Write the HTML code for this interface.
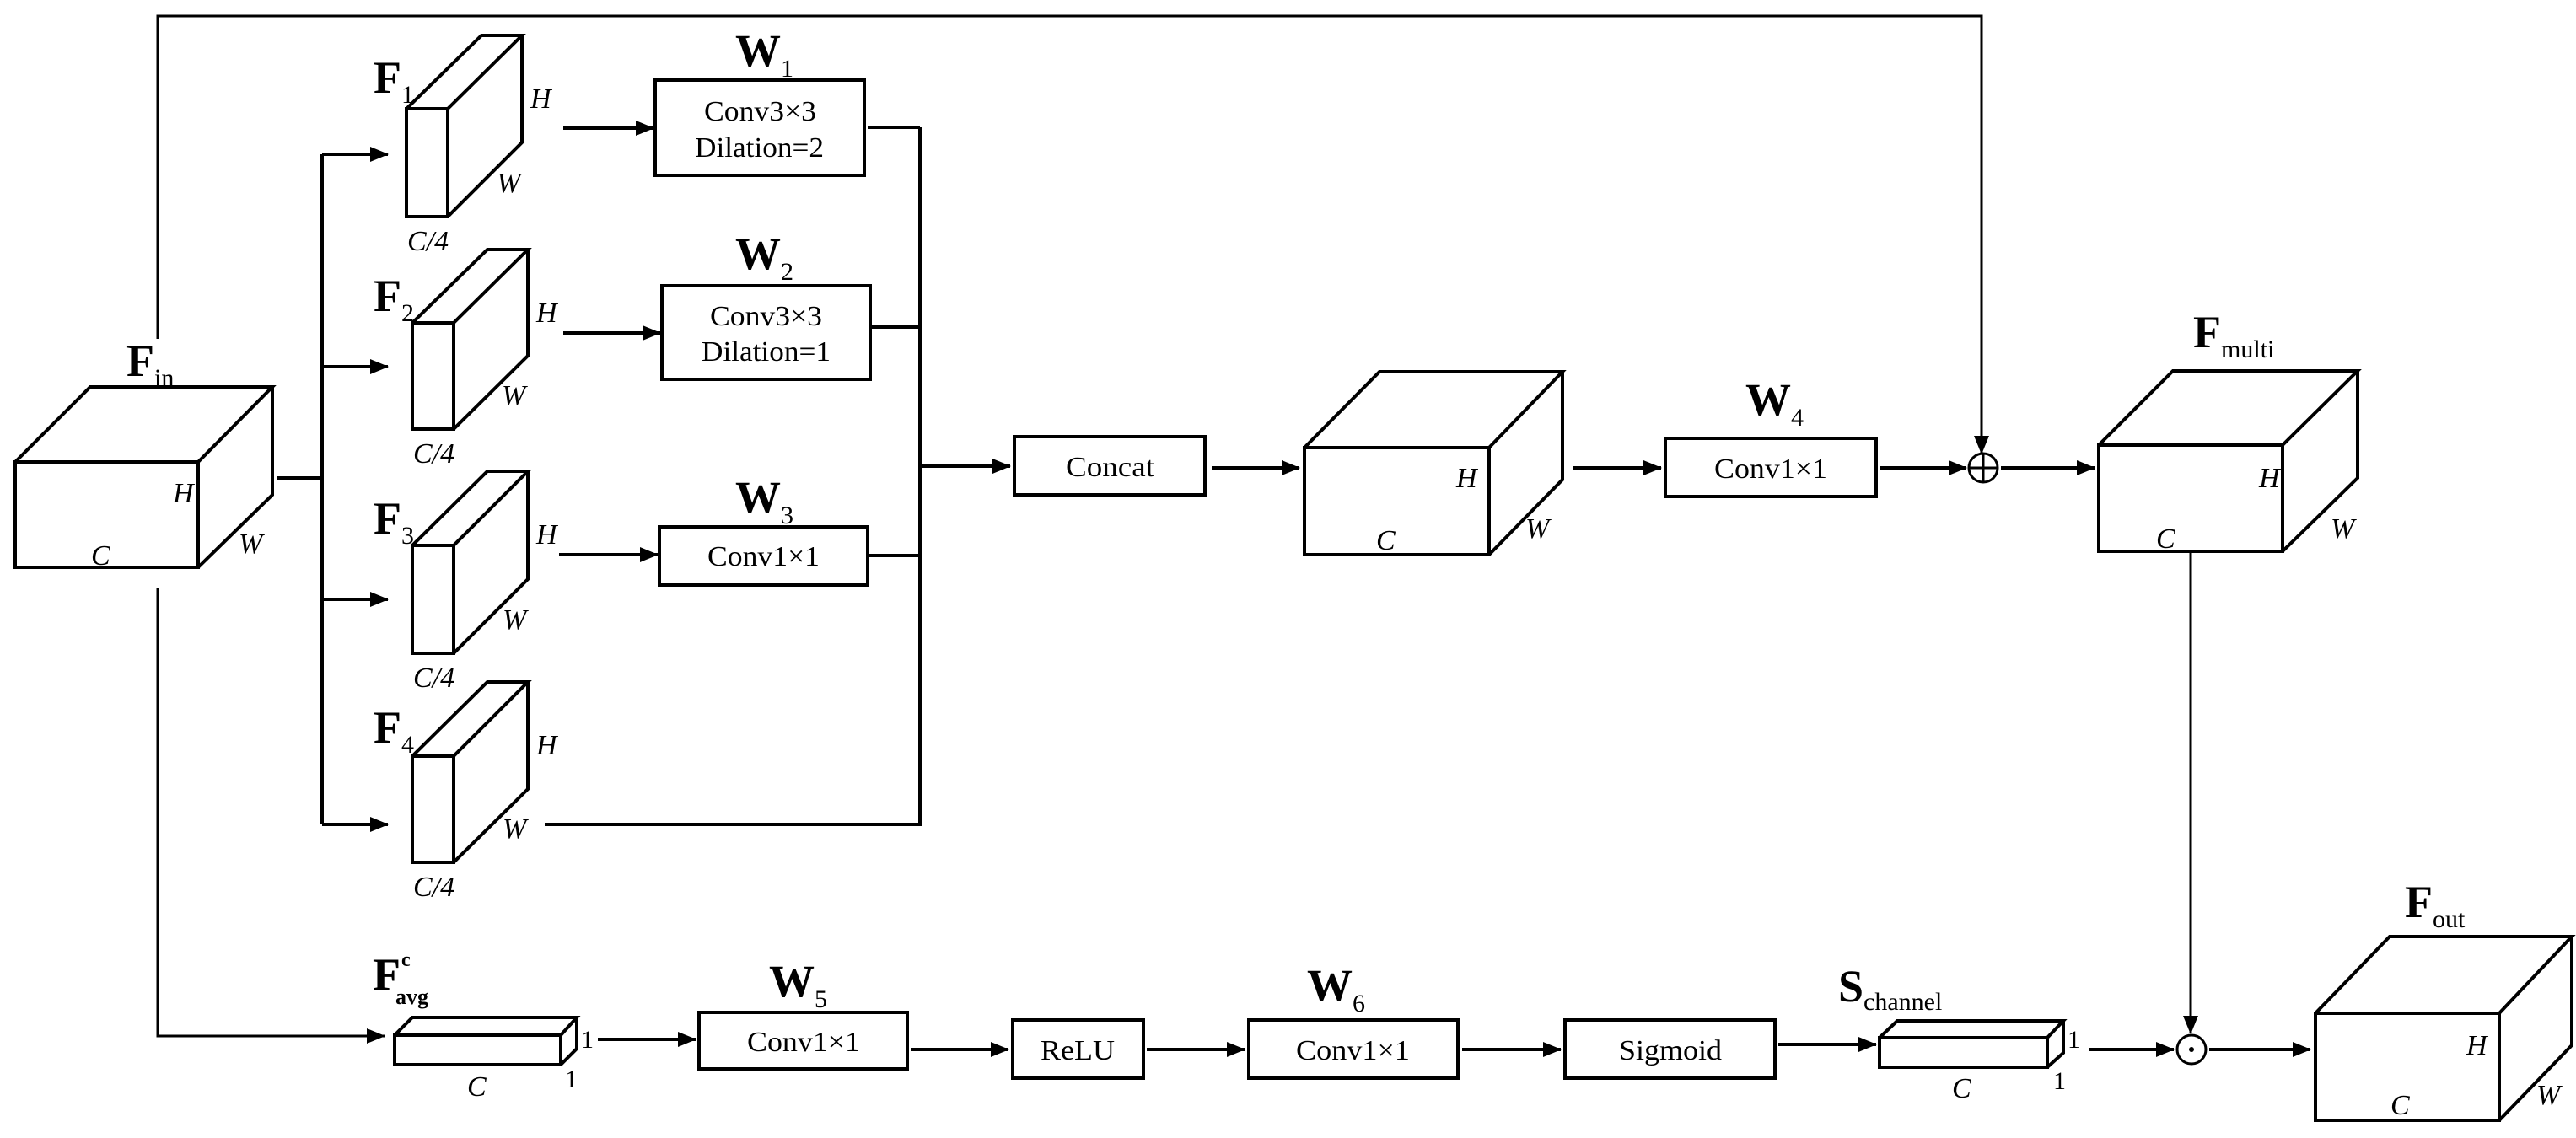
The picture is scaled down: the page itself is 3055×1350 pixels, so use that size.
<!DOCTYPE html>
<html><head><meta charset="utf-8"><style>
html,body{margin:0;padding:0;background:#fff;}
svg{display:block;}
text{font-family:"Liberation Serif",serif;fill:#000;}
.b{font-weight:bold;}
.i{font-style:italic;}
</style></head><body>
<svg width="3055" height="1350" viewBox="0 0 3055 1350" xmlns="http://www.w3.org/2000/svg">
<defs>
<marker id="a" markerWidth="22" markerHeight="18" refX="21" refY="9" orient="auto" markerUnits="userSpaceOnUse">
<path d="M0,0 L22,9 L0,18 Z" fill="#000"/>
</marker>
</defs>
<g stroke="#000" stroke-width="4" fill="none" stroke-linejoin="miter">
<rect x="18" y="548" width="217" height="125" fill="#fff"/>
<path d="M18,548 L107,459 L323,459 L235,548 M323,459 L323,587 L235,673"/>
<path d="M187,402 L187,19 L2350,19 L2350,538" stroke-width="3" marker-end="url(#a)"/>
<path d="M328,567 L382,567"/>
<path d="M382,183 L382,978"/>
<path d="M382,183 L460,183" marker-end="url(#a)"/>
<path d="M382,435 L460,435" marker-end="url(#a)"/>
<path d="M382,711 L460,711" marker-end="url(#a)"/>
<path d="M382,978 L460,978" marker-end="url(#a)"/>
<rect x="482" y="129" width="49" height="128" fill="#fff"/>
<path d="M482,129 L571,42 L619,42 L531,129 M619,42 L619,169 L531,257"/>
<rect x="489" y="383" width="49" height="126" fill="#fff"/>
<path d="M489,383 L578,296 L626,296 L538,383 M626,296 L626,422 L538,509"/>
<rect x="489" y="647" width="49" height="128" fill="#fff"/>
<path d="M489,647 L578,559 L626,559 L538,647 M626,559 L626,687 L538,775"/>
<rect x="489" y="897" width="49" height="126" fill="#fff"/>
<path d="M489,897 L578,809 L626,809 L538,897 M626,809 L626,936 L538,1023"/>
<path d="M668,152 L775,152" marker-end="url(#a)"/>
<path d="M668,395 L783,395" marker-end="url(#a)"/>
<path d="M663,658 L780,658" marker-end="url(#a)"/>
<rect x="777" y="95" width="248" height="113"/>
<rect x="785" y="339" width="247" height="111"/>
<rect x="782" y="625" width="247" height="69"/>
<path d="M1029,151 L1091,151 M1034,388 L1091,388 M1031,659 L1091,659 M646,978 L1091,978 M1091,151 L1091,980"/>
<path d="M1091,553 L1198,553" marker-end="url(#a)"/>
<rect x="1203" y="518" width="226" height="69"/>
<path d="M1437,555 L1541,555" marker-end="url(#a)"/>
<rect x="1547" y="531" width="219" height="127" fill="#fff"/>
<path d="M1547,531 L1636,441 L1853,441 L1766,531 M1853,441 L1853,569 L1766,658"/>
<path d="M1866,555 L1970,555" marker-end="url(#a)"/>
<rect x="1975" y="520" width="250" height="69"/>
<path d="M2230,555 L2332,555" marker-end="url(#a)"/>
<ellipse cx="2352" cy="555" rx="17" ry="17" stroke-width="3"/>
<path d="M2335,555 L2369,555 M2352,538 L2352,572" stroke-width="3"/>
<path d="M2373,555 L2484,555" marker-end="url(#a)"/>
<rect x="2489" y="528" width="218" height="126" fill="#fff"/>
<path d="M2489,528 L2577,440 L2796,440 L2707,528 M2796,440 L2796,567 L2707,654"/>
<path d="M2598,654 L2598,1226" stroke-width="3" marker-end="url(#a)"/>
<path d="M187,697 L187,1229 L456,1229" stroke-width="3" marker-end="url(#a)"/>
<rect x="468" y="1228" width="197" height="35" fill="#fff"/>
<path d="M468,1228 L489,1207 L684,1207 L665,1228 M684,1207 L684,1244 L665,1263"/>
<path d="M709,1233 L825,1233" marker-end="url(#a)"/>
<rect x="829" y="1201" width="247" height="67"/>
<path d="M1080,1245 L1196,1245" marker-end="url(#a)"/>
<rect x="1201" y="1210" width="155" height="69"/>
<path d="M1360,1245 L1476,1245" marker-end="url(#a)"/>
<rect x="1481" y="1210" width="248" height="69"/>
<path d="M1734,1245 L1851,1245" marker-end="url(#a)"/>
<rect x="1856" y="1210" width="249" height="69"/>
<path d="M2109,1239 L2225,1239" marker-end="url(#a)"/>
<rect x="2229" y="1231" width="199" height="35" fill="#fff"/>
<path d="M2229,1231 L2250,1211 L2447,1211 L2428,1231 M2447,1211 L2447,1249 L2428,1266"/>
<path d="M2477,1245 L2578,1245" marker-end="url(#a)"/>
<ellipse cx="2599" cy="1245" rx="17" ry="17" stroke-width="3"/>
<circle cx="2599" cy="1245" r="3" fill="#000" stroke="none"/>
<path d="M2620,1245 L2740,1245" marker-end="url(#a)"/>
<rect x="2746" y="1202" width="218" height="127" fill="#fff"/>
<path d="M2746,1202 L2834,1111 L3050,1111 L2964,1202 M3050,1111 L3050,1240 L2964,1329"/>
</g>

<g font-size="34">
<text x="150" y="446" class="b" font-size="54">F<tspan font-size="30" font-weight="normal" dy="12">in</tspan></text>
<text x="205" y="596" class="i">H</text>
<text x="283" y="656" class="i">W</text>
<text x="108" y="670" class="i">C</text>

<text x="443" y="110" class="b" font-size="54">F<tspan font-size="30" font-weight="normal" dy="12">1</tspan></text>
<text x="629" y="128" class="i">H</text>
<text x="589" y="228" class="i">W</text>
<text x="483" y="297" class="i">C/4</text>

<text x="443" y="369" class="b" font-size="54">F<tspan font-size="30" font-weight="normal" dy="12">2</tspan></text>
<text x="636" y="382" class="i">H</text>
<text x="595" y="480" class="i">W</text>
<text x="490" y="549" class="i">C/4</text>

<text x="443" y="633" class="b" font-size="54">F<tspan font-size="30" font-weight="normal" dy="12">3</tspan></text>
<text x="636" y="645" class="i">H</text>
<text x="596" y="746" class="i">W</text>
<text x="490" y="815" class="i">C/4</text>

<text x="443" y="881" class="b" font-size="54">F<tspan font-size="30" font-weight="normal" dy="12">4</tspan></text>
<text x="636" y="895" class="i">H</text>
<text x="596" y="994" class="i">W</text>
<text x="490" y="1063" class="i">C/4</text>

<text x="872" y="78" class="b" font-size="54">W<tspan font-size="30" font-weight="normal" dy="13">1</tspan></text>
<text x="872" y="319" class="b" font-size="54">W<tspan font-size="30" font-weight="normal" dy="13">2</tspan></text>
<text x="872" y="608" class="b" font-size="54">W<tspan font-size="30" font-weight="normal" dy="13">3</tspan></text>
<text x="2070" y="492" class="b" font-size="54">W<tspan font-size="30" font-weight="normal" dy="13">4</tspan></text>
<text x="912" y="1182" class="b" font-size="54">W<tspan font-size="30" font-weight="normal" dy="13">5</tspan></text>
<text x="1550" y="1187" class="b" font-size="54">W<tspan font-size="30" font-weight="normal" dy="13">6</tspan></text>

<text x="835" y="143" textLength="133" lengthAdjust="spacingAndGlyphs">Conv3×3</text>
<text x="824" y="186" textLength="153" lengthAdjust="spacingAndGlyphs">Dilation=2</text>
<text x="842" y="386" textLength="133" lengthAdjust="spacingAndGlyphs">Conv3×3</text>
<text x="832" y="428" textLength="153" lengthAdjust="spacingAndGlyphs">Dilation=1</text>
<text x="839" y="671" textLength="133" lengthAdjust="spacingAndGlyphs">Conv1×1</text>
<text x="1264" y="565" textLength="105" lengthAdjust="spacingAndGlyphs">Concat</text>
<text x="2033" y="567" textLength="134" lengthAdjust="spacingAndGlyphs">Conv1×1</text>
<text x="886" y="1247" textLength="134" lengthAdjust="spacingAndGlyphs">Conv1×1</text>
<text x="1234" y="1257" textLength="88" lengthAdjust="spacingAndGlyphs">ReLU</text>
<text x="1537" y="1257" textLength="135" lengthAdjust="spacingAndGlyphs">Conv1×1</text>
<text x="1920" y="1257" textLength="122" lengthAdjust="spacingAndGlyphs">Sigmoid</text>

<text x="1727" y="578" class="i">H</text>
<text x="1809" y="638" class="i">W</text>
<text x="1632" y="652" class="i">C</text>

<text x="2601" y="412" class="b" font-size="54">F<tspan font-size="30" dy="12" font-weight="normal">multi</tspan></text>
<text x="2679" y="578" class="i">H</text>
<text x="2764" y="638" class="i">W</text>
<text x="2557" y="650" class="i">C</text>

<text x="442" y="1174" class="b" font-size="54">F</text>
<text x="476" y="1146" class="b" font-size="24">c</text>
<text x="469" y="1191" class="b" font-size="26">avg</text>
<text x="689" y="1243" font-size="30">1</text>
<text x="670" y="1290" font-size="30">1</text>
<text x="554" y="1300" class="i">C</text>

<text x="2180" y="1188" class="b" font-size="54">S<tspan font-size="30" dy="10" font-weight="normal">channel</tspan></text>
<text x="2452" y="1243" font-size="30">1</text>
<text x="2435" y="1292" font-size="30">1</text>
<text x="2315" y="1302" class="i">C</text>

<text x="2852" y="1088" class="b" font-size="54">F<tspan font-size="30" dy="12" font-weight="normal">out</tspan></text>
<text x="2925" y="1251" class="i">H</text>
<text x="3008" y="1310" class="i">W</text>
<text x="2835" y="1322" class="i">C</text>
</g>
</svg>
</body></html>
